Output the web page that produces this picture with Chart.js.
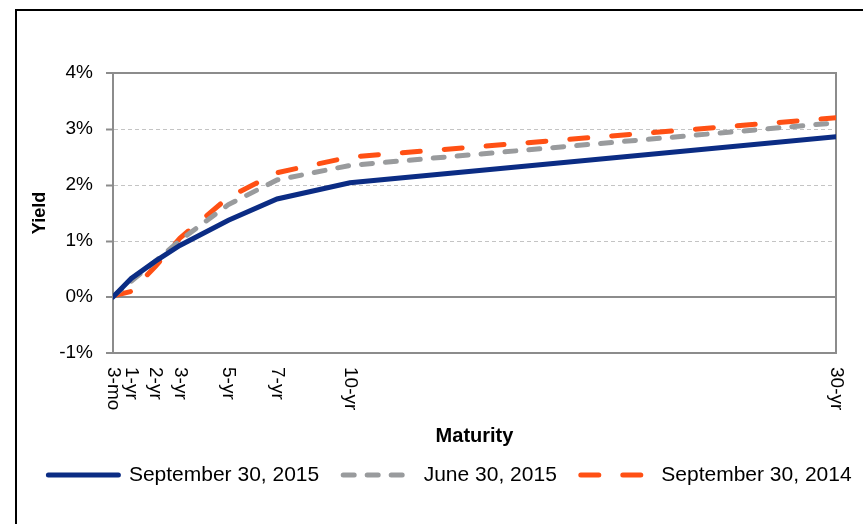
<!DOCTYPE html>
<html>
<head>
<meta charset="utf-8">
<script src="https://cdn.jsdelivr.net/npm/chart.js@4/dist/chart.umd.min.js"></script>
<style>
  html, body { margin: 0; background: #fff; }
  #wrap { width: 863px; height: 524px; }
</style>
</head>
<body>
<div id="wrap"><canvas id="chart"></canvas></div>
<script>
// maturity in years and the labels printed under the axis
const maturities = [0.25, 1, 2, 3, 5, 7, 10, 30];
const maturityLabels = ['3-mo', '1-yr', '2-yr', '3-yr', '5-yr', '7-yr', '10-yr', '30-yr'];
// yields in %
const sep2015 = [0.00, 0.33, 0.64, 0.92, 1.37, 1.75, 2.04, 2.86];
const jun2015 = [0.01, 0.28, 0.64, 1.01, 1.65, 2.09, 2.35, 3.11];
const sep2014 = [0.02, 0.10, 0.55, 1.05, 1.78, 2.22, 2.50, 3.20];

const FONT = "'Liberation Sans', Arial, sans-serif";
const AXIS = '#8c8c8c';

const pts = arr => maturities.map((m, i) => ({x: m, y: arr[i]}));

const frame = {
  id: 'frame',
  beforeDraw(chart) {
    const ctx = chart.ctx;
    ctx.save();
    ctx.fillStyle = '#fff';
    ctx.fillRect(0, 0, chart.width, chart.height);
    ctx.strokeStyle = '#000';
    ctx.lineWidth = 2;
    ctx.strokeRect(16, 10, chart.width + 20, chart.height + 20);
    ctx.restore();
  }
};

// x labels read top to bottom, so draw them by hand at the scale's pixels
const xLabels = {
  id: 'xLabels',
  afterDraw(chart) {
    const ctx = chart.ctx;
    const x = chart.scales.x;
    ctx.save();
    ctx.font = '19px ' + FONT;
    ctx.fillStyle = '#000';
    ctx.textAlign = 'left';
    ctx.textBaseline = 'middle';
    maturities.forEach((m, i) => {
      ctx.save();
      ctx.translate(x.getPixelForValue(m), chart.chartArea.bottom + 14);
      ctx.rotate(Math.PI / 2);
      ctx.fillText(maturityLabels[i], 0, 0);
      ctx.restore();
    });
    ctx.restore();
  }
};

new Chart(document.getElementById('chart'), {
  type: 'line',
  data: {
    datasets: [
      { label: 'September 30, 2015', data: pts(sep2015), borderColor: '#0b2c84', backgroundColor: '#0b2c84',
        borderWidth: 5, borderCapStyle: 'round' },
      { label: 'June 30, 2015', data: pts(jun2015), borderColor: '#999b9d', backgroundColor: '#999b9d',
        borderWidth: 5, borderCapStyle: 'round', borderDash: [11, 13] },
      { label: 'September 30, 2014', data: pts(sep2014), borderColor: '#ff5014', backgroundColor: '#ff5014',
        borderWidth: 5, borderCapStyle: 'round', borderDash: [18, 24] }
    ]
  },
  options: {
    responsive: true,
    maintainAspectRatio: false,
    animation: false,
    elements: { point: { radius: 0 }, line: { tension: 0 } },
    // right padding is negative so the legend row may run to the page edge
    layout: { padding: { left: 17, top: 73, right: -20, bottom: 28.5 } },
    plugins: {
      tooltip: { enabled: false },
      legend: {
        position: 'bottom',
        labels: {
          usePointStyle: true,
          pointStyle: 'line',
          pointStyleWidth: 70,
          padding: 24,
          color: '#000',
          font: { family: FONT, size: 21 },
          generateLabels: chart => chart.data.datasets.map((d, i) => ({
            text: d.label,
            datasetIndex: i,
            strokeStyle: d.borderColor,
            fillStyle: d.borderColor,
            lineWidth: d.borderWidth,
            lineDash: d.borderDash || [],
            lineCap: 'round',
            pointStyle: 'line',
            hidden: false
          }))
        }
      }
    },
    scales: {
      x: {
        type: 'linear',
        min: 0.25,
        max: 30,
        afterBuildTicks: s => { s.ticks = maturities.map(v => ({value: v})); },
        afterFit: s => { s.height = 87.5; },
        ticks: { display: false },
        grid: { display: false },
        border: { display: true, color: AXIS, width: 2 },
        title: {
          display: true, text: 'Maturity', color: '#000',
          font: { family: FONT, size: 20, weight: 'bold' },
          padding: { top: 0, bottom: -7.5 }
        }
      },
      y: {
        min: -1,
        max: 4,
        afterBuildTicks: s => { s.ticks = [-1, 0, 1, 2, 3, 4].map(v => ({value: v})); },
        afterFit: s => { s.width = 96; },
        ticks: {
          stepSize: 1, padding: 13, color: '#000',
          font: { family: FONT, size: 19 },
          callback: v => v + '%'
        },
        grid: {
          color: c => (c.tick && [1, 2, 3].includes(c.tick.value)) ? '#c4c4c4' : AXIS,
          lineWidth: c => (c.tick && [1, 2, 3].includes(c.tick.value)) ? 1 : 2,
          tickLength: 7,
          tickColor: AXIS,
          tickWidth: 2
        },
        border: {
          color: AXIS, width: 2,
          dash: c => (c.tick && [1, 2, 3].includes(c.tick.value)) ? [4, 3] : []
        },
        title: {
          display: true, text: 'Yield', color: '#000',
          font: { family: FONT, size: 18, weight: 'bold' },
          padding: { top: 12, bottom: 0 }
        }
      },
      y2: {
        position: 'right',
        display: true,
        min: 0,
        max: 1,
        afterFit: s => { s.width = 47; },
        ticks: { display: false },
        grid: { drawOnChartArea: false, drawTicks: false },
        border: { color: AXIS, width: 2 }
      }
    }
  },
  plugins: [frame, xLabels]
});
</script>
</body>
</html>
